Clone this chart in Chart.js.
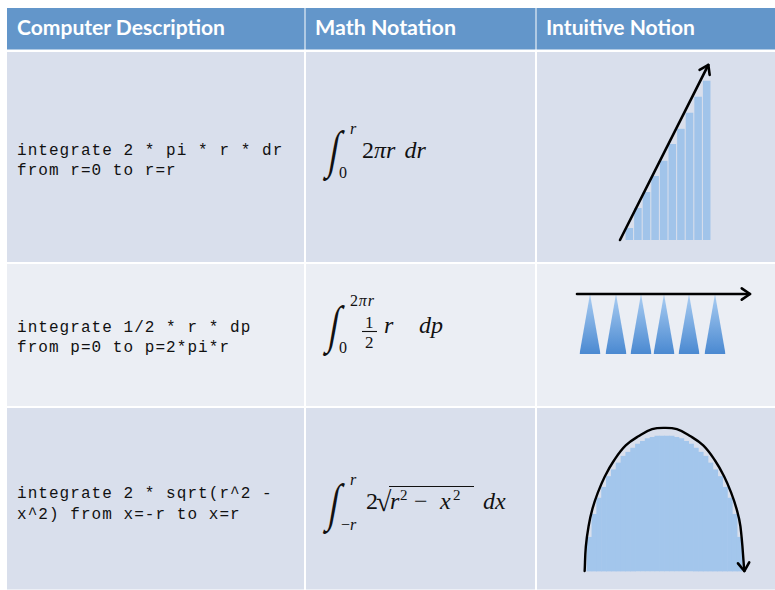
<!DOCTYPE html>
<html lang="en">
<head>
  <meta charset="UTF-8">
  <title>Integrals of a circle</title>
  <script src="https://cdn.jsdelivr.net/npm/chart.js@4"></script>
  <style>
    html, body { margin: 0; padding: 0; background: #fff; overflow: hidden; }
    #page { position: relative; width: 775px; height: 590px; }
    #sheet { position: absolute; left: 0; top: 0; }
    canvas { position: absolute; }
    .head { font-family: Lato, "Open Sans", sans-serif; font-weight: 700; font-size: 20px; fill: #fff; }
    .code { font-family: "Liberation Mono", monospace; font-size: 16px; letter-spacing: 1.05px; fill: #111; }
    .math { font-family: "Liberation Serif", serif; font-size: 24px; fill: #111; }
    .int { font-size: 44px; }
    .it { font-style: italic; }
    .small { font-size: 16px; }
  </style>
</head>
<body>
<div id="page">
  <svg id="sheet" width="775" height="590">
    <!-- header -->
    <rect x="7" y="8" width="297.5" height="41.5" fill="#6396ca"/>
    <rect x="305.5" y="8" width="230" height="41.5" fill="#6396ca"/>
    <rect x="536.5" y="8" width="238.5" height="41.5" fill="#6396ca"/>
    <!-- rows -->
    <rect x="7" y="52" width="297" height="210" fill="#d9dfec"/>
    <rect x="306" y="52" width="229" height="210" fill="#d9dfec"/>
    <rect x="537" y="52" width="238" height="210" fill="#d9dfec"/>
    <rect x="7" y="264" width="297" height="142" fill="#ebeef4"/>
    <rect x="306" y="264" width="229" height="142" fill="#ebeef4"/>
    <rect x="537" y="264" width="238" height="142" fill="#ebeef4"/>
    <rect x="7" y="408" width="297" height="181.5" fill="#d9dfec"/>
    <rect x="306" y="408" width="229" height="181.5" fill="#d9dfec"/>
    <rect x="537" y="408" width="238" height="181.5" fill="#d9dfec"/>

    <text class="head" x="17" y="35" textLength="208" lengthAdjust="spacingAndGlyphs">Computer Description</text>
    <text class="head" x="315" y="35" textLength="141" lengthAdjust="spacingAndGlyphs">Math Notation</text>
    <text class="head" x="546" y="35" textLength="149" lengthAdjust="spacingAndGlyphs">Intuitive Notion</text>

    <text class="code" x="17" y="155">integrate 2 * pi * r * dr</text>
    <text class="code" x="17" y="175">from r=0 to r=r</text>
    <text class="code" x="17" y="332">integrate 1/2 * r * dp</text>
    <text class="code" x="17" y="352">from p=0 to p=2*pi*r</text>
    <text class="code" x="17" y="498">integrate 2 * sqrt(r^2 -</text>
    <text class="code" x="17" y="519">x^2) from x=-r to x=r</text>

    <!-- row 1 math -->
    <text class="math int" transform="translate(327,167) skewX(-10) scale(0.8,1.18)">∫</text>
    <text class="math small it" x="350" y="134">r</text>
    <text class="math small" x="339" y="178">0</text>
    <text class="math" x="362" y="158">2<tspan class="it">πr</tspan><tspan class="it" dx="10">dr</tspan></text>

    <!-- row 2 math -->
    <text class="math int" transform="translate(327,342) skewX(-10) scale(0.8,1.18)">∫</text>
    <text class="math small" x="350" y="306" letter-spacing="0.8">2<tspan class="it">πr</tspan></text>
    <text class="math" x="365" y="328" style="font-size:17px">1</text>
    <line x1="362" y1="331.5" x2="377" y2="331.5" stroke="#111" stroke-width="1.1"/>
    <text class="math small" x="339" y="353">0</text>
    <text class="math" x="365" y="348" style="font-size:17px">2</text>
    <text class="math it" x="384" y="333">r</text>
    <text class="math it" x="419" y="333">dp</text>

    <!-- row 3 math -->
    <text class="math int" transform="translate(327,520) skewX(-10) scale(0.8,1.18)">∫</text>
    <text class="math small it" x="350" y="485">r</text>
    <text class="math small" x="341" y="530">−<tspan class="it">r</tspan></text>
    <text class="math" x="366" y="509">2</text>
    <text class="math" x="376" y="511" style="font-size:28px">√</text>
    <line x1="389" y1="486.5" x2="474" y2="486.5" stroke="#111" stroke-width="1.1"/>
    <text class="math it" x="390" y="509">r</text>
    <text class="math" x="400" y="500" style="font-size:15px">2</text>
    <text class="math" x="414" y="509">−</text>
    <text class="math it" x="440" y="509">x</text>
    <text class="math" x="453" y="500" style="font-size:15px">2</text>
    <text class="math it" x="483" y="509">dx</text>
  </svg>

  <canvas id="ringChart" width="238" height="210" style="left:537px;top:52px"></canvas>
  <canvas id="coneChart" width="238" height="142" style="left:537px;top:264px"></canvas>
  <canvas id="chordChart" width="238" height="181" style="left:537px;top:408px"></canvas>
</div>

<script>
  // row 1: rings of width dr, circumference 2*pi*r
  const ringX = [0.5, 1.5, 2.5, 3.5, 4.5, 5.5, 6.5, 7.5, 8.5, 9.5];
  const ringHeights = [0.75, 2.0, 3.0, 4.0, 4.95, 6.0, 6.95, 7.95, 8.95, 9.95];
  const ringArrowX = [-0.58, 9.69];
  const ringArrowY = [0, 10.94];

  // row 2: thin triangles of base dp and height r
  const coneCenters = [0.52, 1.56, 2.56, 3.48, 4.48, 5.52];
  const coneBases = [0.84, 0.84, 0.84, 0.84, 0.84, 0.84];
  const coneHeights = [1, 1, 1, 1, 1, 1];
  const coneArrowX = [0, 6.92];
  const coneArrowY = [1, 1];

  // row 3: chords 2*sqrt(r^2 - x^2)
  const chordX = [-0.969, -0.906, -0.844, -0.781, -0.719, -0.656, -0.594, -0.531,
                  -0.469, -0.406, -0.344, -0.281, -0.219, -0.156, -0.094, -0.031,
                   0.031,  0.094,  0.156,  0.219,  0.281,  0.344,  0.406,  0.469,
                   0.531,  0.594,  0.656,  0.719,  0.781,  0.844,  0.906,  0.969];
  const chordHeights = [0.25, 0.42, 0.54, 0.62, 0.70, 0.75, 0.80, 0.85,
                        0.88, 0.91, 0.94, 0.96, 0.98, 0.99, 1.00, 1.00,
                        1.00, 1.00, 0.99, 0.98, 0.96, 0.94, 0.91, 0.88,
                        0.85, 0.80, 0.75, 0.70, 0.62, 0.54, 0.42, 0.25];
  const arcX = [-1.03, -1.015, -0.98, -0.93, -0.86, -0.77, -0.65, -0.50, -0.33, -0.16, 0,
                0.16, 0.33, 0.50, 0.65, 0.77, 0.86, 0.93, 0.98, 1.03];
  const arcY = [0.00, 0.18, 0.33, 0.46, 0.58, 0.70, 0.82, 0.93, 1.00, 1.05, 1.06,
                1.05, 1.00, 0.93, 0.82, 0.70, 0.58, 0.46, 0.33, 0.00];

  const pts = (xs, ys) => xs.map((x, i) => ({ x, y: ys[i] }));

  // open chevron at the end of any dataset flagged with arrow: true
  const arrowHeads = {
    id: 'arrowHeads',
    afterDatasetsDraw(chart) {
      const c = chart.ctx;
      chart.data.datasets.forEach((ds, i) => {
        if (!ds.arrow) return;
        const els = chart.getDatasetMeta(i).data;
        const a = els[els.length - 2], b = els[els.length - 1];
        const ang = Math.atan2(b.y - a.y, b.x - a.x);
        const len = 10, spread = 0.6;
        c.save();
        c.strokeStyle = '#000';
        c.lineWidth = 2.6;
        c.lineCap = 'round';
        c.lineJoin = 'round';
        c.beginPath();
        c.moveTo(b.x - len * Math.cos(ang - spread), b.y - len * Math.sin(ang - spread));
        c.lineTo(b.x, b.y);
        c.lineTo(b.x - len * Math.cos(ang + spread), b.y - len * Math.sin(ang + spread));
        c.stroke();
        c.restore();
      });
    }
  };

  const bare = (xr, yr) => ({
    responsive: false,
    animation: false,
    layout: { padding: 0 },
    plugins: { legend: { display: false }, tooltip: { enabled: false } },
    scales: {
      x: { type: 'linear', display: false, offset: false, min: xr[0], max: xr[1] },
      y: { type: 'linear', display: false, min: yr[0], max: yr[1] }
    }
  });

  const arrowLine = (data, extra) => Object.assign({
    type: 'line',
    data,
    borderColor: '#000',
    borderWidth: 2.6,
    borderCapStyle: 'round',
    pointRadius: 0,
    fill: false,
    arrow: true,
    order: 0
  }, extra || {});

  new Chart(document.getElementById('ringChart'), {
    type: 'bar',
    data: {
      datasets: [
        {
          type: 'bar',
          data: pts(ringX, ringHeights),
          backgroundColor: '#a1c4ea',
          borderWidth: 0,
          barPercentage: 0.88,
          categoryPercentage: 1,
          order: 1
        },
        arrowLine(pts(ringArrowX, ringArrowY))
      ]
    },
    options: bare([-10.23, 17.44], [-1.375, 11.75]),
    plugins: [arrowHeads]
  });

  const coneFill = (ctx) => {
    const { chart } = ctx;
    if (!chart.chartArea) return '#6fa3dd';
    const y = chart.scales.y;
    const g = chart.ctx.createLinearGradient(0, y.getPixelForValue(1), 0, y.getPixelForValue(0));
    g.addColorStop(0, '#aacdf2');
    g.addColorStop(1, '#4a89d1');
    return g;
  };

  const coneSets = coneCenters.map((c, i) => ({
    data: [
      { x: c - coneBases[i] / 2, y: 0 },
      { x: c, y: coneHeights[i] },
      { x: c + coneBases[i] / 2, y: 0 }
    ],
    borderWidth: 0,
    borderColor: 'rgba(0,0,0,0)',
    backgroundColor: coneFill,
    pointRadius: 0,
    fill: 'origin',
    tension: 0,
    order: 1
  }));

  new Chart(document.getElementById('coneChart'), {
    type: 'line',
    data: { datasets: coneSets.concat([arrowLine(pts(coneArrowX, coneArrowY))]) },
    options: bare([-1.6, 7.92], [-0.867, 1.5]),
    plugins: [arrowHeads]
  });

  new Chart(document.getElementById('chordChart'), {
    type: 'bar',
    data: {
      datasets: [
        {
          type: 'bar',
          data: pts(chordX, chordHeights),
          backgroundColor: '#a3c6ec',
          borderWidth: 0,
          barPercentage: 1,
          categoryPercentage: 1,
          order: 1
        },
        arrowLine(pts(arcX, arcY), { tension: 0.4, borderWidth: 2.4 })
      ]
    },
    options: bare([-1.645, 1.426], [-0.133, 1.207]),
    plugins: [arrowHeads]
  });
</script>
</body>
</html>
